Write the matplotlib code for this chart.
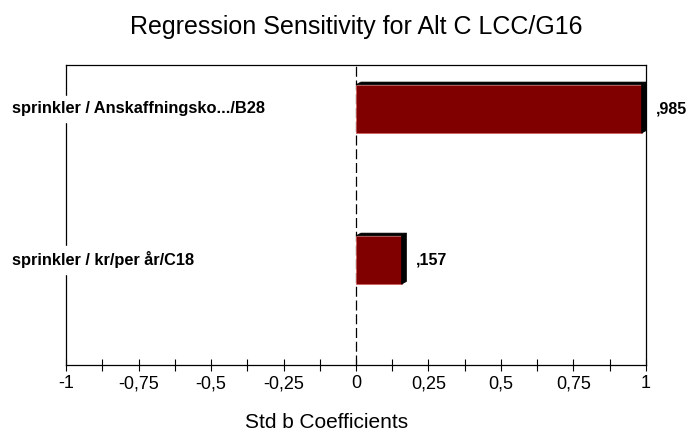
import matplotlib.pyplot as plt
from matplotlib.patches import Polygon
from matplotlib.ticker import FuncFormatter, MultipleLocator

plt.rcParams["font.family"] = ["Liberation Sans", "DejaVu Sans"]

labels = ["sprinkler / kr/per år/C18", "sprinkler / Anskaffningsko.../B28"]
values = [0.157, 0.985]
value_text = [",157", ",985"]

bar_color = "#800000"
positions = [0, 1]
bar_h = 0.32
dx, dy = 0.017, 0.018  # fake 3d depth

fig = plt.figure(figsize=(6.9, 4.37), dpi=100)
ax = fig.add_axes([0.0957, 0.1648, 0.8405, 0.6865])

ax.barh(positions, values, height=bar_h, color=bar_color,
        edgecolor="#d06060", linewidth=0.6, zorder=3)
for y, v in zip(positions, values):
    top = y + bar_h / 2
    bot = y - bar_h / 2
    # top face
    ax.add_patch(Polygon([(0, top), (v, top), (v + dx, top + dy), (dx, top + dy)],
                         closed=True, facecolor="black", edgecolor="black",
                         linewidth=0.5, zorder=3))
    # side face
    ax.add_patch(Polygon([(v, bot), (v + dx, bot + dy), (v + dx, top + dy), (v, top)],
                         closed=True, facecolor="black", edgecolor="black",
                         linewidth=0.5, zorder=3))

for y, v, t in zip(positions, values, value_text):
    ax.text(v + 0.05, y, t, ha="left", va="center", fontsize=11.5,
            fontweight="bold")

ax.axvline(0, color="black", linestyle=(0, (8, 3)), linewidth=0.9, zorder=2)

ax.set_xlim(-1, 1)
ax.set_ylim(-0.695, 1.291)
ax.xaxis.set_major_locator(MultipleLocator(0.25))
ax.xaxis.set_minor_locator(MultipleLocator(0.125))
ax.xaxis.set_major_formatter(FuncFormatter(lambda x, p: f"{x:g}".replace(".", ",")))
ax.tick_params(axis="x", which="both", direction="inout", length=9, width=0.8,
               labelsize=13, pad=3)
ax.set_yticks([])

for s in ax.spines.values():
    s.set_linewidth(0.9)

for y, lab in zip(positions, labels):
    fig.text(12 / 690, ax.transData.transform((0, y))[1] / 437, lab,
             ha="left", va="center", fontsize=11.8, fontweight="bold",
             backgroundcolor="white", zorder=5)

ax.set_title("Regression Sensitivity for Alt C LCC/G16", fontsize=18, pad=22)
ax.set_xlabel("Std b Coefficients", fontsize=15)
ax.xaxis.set_label_coords(0.45, -0.193)
ax.xaxis.label.set_va("center")

fig.savefig("out.png", dpi=100)
